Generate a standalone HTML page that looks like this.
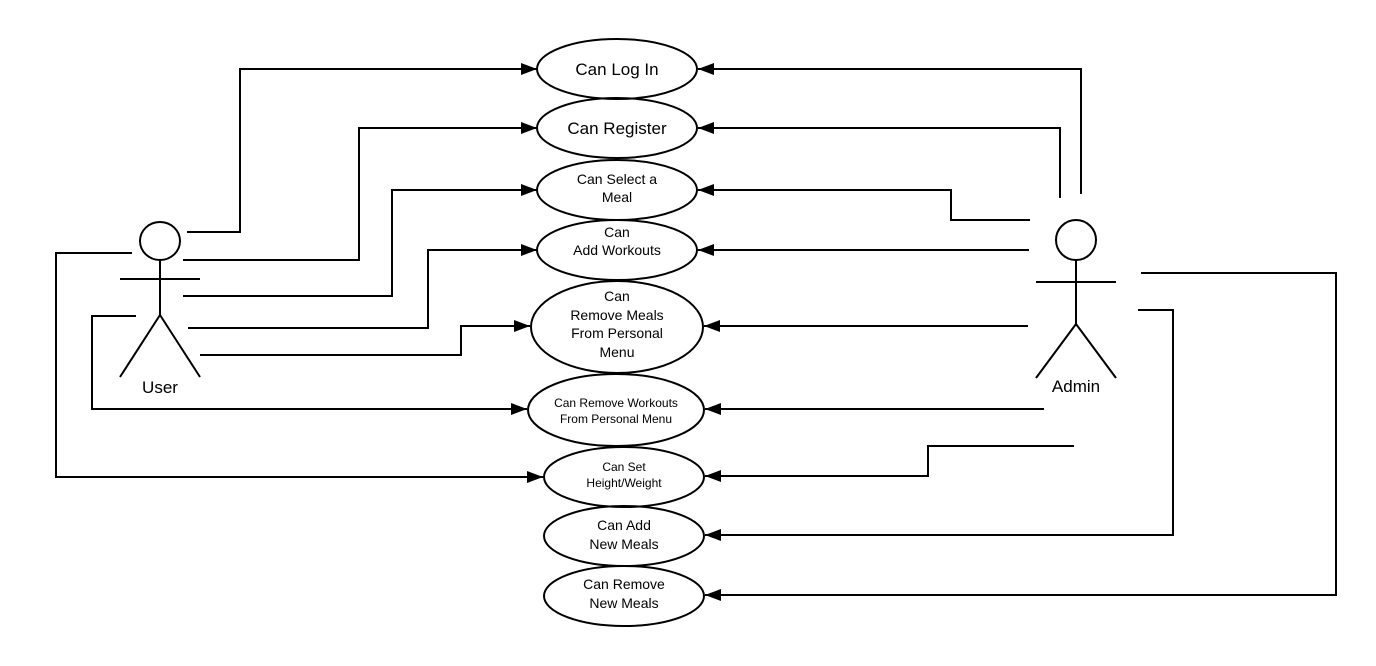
<!DOCTYPE html>
<html><head><meta charset="utf-8"><style>
html,body{margin:0;padding:0;background:#fff;}
svg{display:block;}
text{font-family:"Liberation Sans",Arial,sans-serif;fill:#000;text-anchor:middle;}
</style></head><body>
<svg width="1376" height="666" viewBox="0 0 1376 666" xmlns="http://www.w3.org/2000/svg">
<defs>
<marker id="a" markerWidth="16" markerHeight="12" refX="16" refY="6" orient="auto" markerUnits="userSpaceOnUse">
<path d="M0,0 L16,6 L0,12 Z" fill="#000"/>
</marker>
</defs>
<g fill="none" stroke="#000" stroke-width="2">
<ellipse cx="617" cy="69" rx="80" ry="30"/>
<ellipse cx="617" cy="128" rx="80" ry="30"/>
<ellipse cx="617" cy="190" rx="80" ry="30"/>
<ellipse cx="617" cy="250" rx="80" ry="30"/>
<ellipse cx="617" cy="327" rx="86" ry="46"/>
<ellipse cx="616" cy="410" rx="88" ry="36"/>
<ellipse cx="624" cy="477" rx="80" ry="30"/>
<ellipse cx="624" cy="536" rx="80" ry="30"/>
<ellipse cx="624" cy="596" rx="80" ry="30"/>
<!-- user -->
<ellipse cx="160" cy="241" rx="20" ry="19"/>
<path d="M160,260 V315 M120,279 H200 M160,315 L120,377 M160,315 L200,377"/>
<!-- admin -->
<ellipse cx="1076" cy="240" rx="20" ry="20"/>
<path d="M1076,260 V324 M1036,282 H1116 M1076,324 L1036,378 M1076,324 L1116,378"/>
<!-- user links -->
<path d="M187,232 H240 V69 H537" marker-end="url(#a)"/>
<path d="M183,260 H359 V128 H537" marker-end="url(#a)"/>
<path d="M183,296 H392 V190 H537" marker-end="url(#a)"/>
<path d="M188,328 H428 V250 H537" marker-end="url(#a)"/>
<path d="M200,355 H461 V326 H530" marker-end="url(#a)"/>
<path d="M136,316 H92 V409 H527" marker-end="url(#a)"/>
<path d="M132,253 H56 V477 H543" marker-end="url(#a)"/>
<!-- admin links -->
<path d="M1081,194 V69 H698" marker-end="url(#a)"/>
<path d="M1060,198 V128 H698" marker-end="url(#a)"/>
<path d="M1030,220 H951 V190 H698" marker-end="url(#a)"/>
<path d="M1029,250 H698" marker-end="url(#a)"/>
<path d="M1028,326 H704" marker-end="url(#a)"/>
<path d="M1044,409 H705" marker-end="url(#a)"/>
<path d="M1074,446 H928 V476 H705" marker-end="url(#a)"/>
<path d="M1138,310 H1173 V535 H705" marker-end="url(#a)"/>
<path d="M1141,273 H1336 V595 H705" marker-end="url(#a)"/>
</g>
<text x="617" y="75" font-size="17">Can Log In</text>
<text x="617" y="134" font-size="17">Can Register</text>
<text x="617" y="184" font-size="14">Can Select a</text>
<text x="617" y="202" font-size="14">Meal</text>
<text x="617" y="237" font-size="14">Can</text>
<text x="617" y="255" font-size="14">Add Workouts</text>
<text x="617" y="301" font-size="14">Can</text>
<text x="617" y="320" font-size="14">Remove Meals</text>
<text x="617" y="338" font-size="14">From Personal</text>
<text x="617" y="357" font-size="14">Menu</text>
<text x="616" y="407" font-size="12">Can Remove Workouts</text>
<text x="616" y="423" font-size="12">From Personal Menu</text>
<text x="624" y="471" font-size="12">Can Set</text>
<text x="624" y="487" font-size="12">Height/Weight</text>
<text x="624" y="530" font-size="14">Can Add</text>
<text x="624" y="549" font-size="14">New Meals</text>
<text x="624" y="589" font-size="14">Can Remove</text>
<text x="624" y="608" font-size="14">New Meals</text>
<text x="160" y="393" font-size="17">User</text>
<text x="1076" y="392" font-size="17">Admin</text>
</svg>
</body></html>
